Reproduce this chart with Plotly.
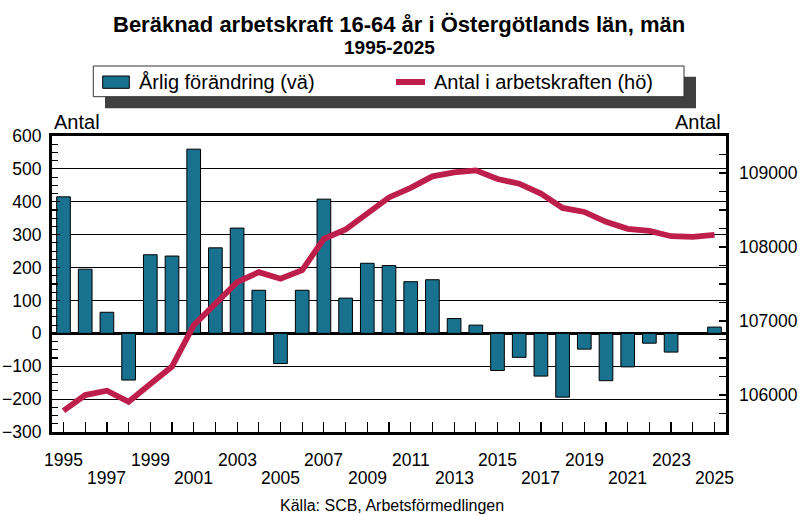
import plotly.graph_objects as go

# ---------------- data ----------------
years = list(range(1995, 2026))
annual_change = [415, 195, 64, -142, 239, 235, 560, 260, 320, 131, -92, 131, 408, 107, 213, 206,
                 157, 163, 45, 25, -113, -73, -130, -194, -48, -144, -102, -30, -57, 0, 19]
labour_force = [105787, 105999, 106057, 105908, 106147, 106385, 106942, 107225, 107526, 107660,
                107571, 107687, 108111, 108236, 108452, 108670, 108800, 108955, 109008, 109035,
                108919, 108856, 108721, 108528, 108474, 108340, 108245, 108218, 108146, 108137, 108164]
xlabels_top = [1995, 1999, 2003, 2007, 2011, 2015, 2019, 2023]
xlabels_bottom = [1997, 2001, 2005, 2009, 2013, 2017, 2021, 2025]
left_ticks = [-300, -200, -100, 0, 100, 200, 300, 400, 500, 600]
right_ticks = [106000, 107000, 108000, 109000]

title = "Beräknad arbetskraft 16-64 år i Östergötlands län, män"
subtitle = "1995-2025"
bar_name = "Årlig förändring (vä)"
line_name = "Antal i arbetskraften (hö)"
source = "Källa: SCB, Arbetsförmedlingen"

# ---------------- style ----------------
FONT = "Liberation Sans, Arial, sans-serif"
BAR_COLOR = "#18718F"
LINE_COLOR = "#BE1E4B"
W, H = 802, 515
L, R, T, B = 52, 76, 136, 83
PW, PH = W - L - R, H - T - B


def px(X):
    return (X - L) / PW


def py(Y):
    return (H - B - Y) / PH


fig = go.Figure()
fig.add_trace(go.Bar(x=years, y=annual_change, name=bar_name, width=0.63,
                     marker=dict(color=BAR_COLOR, line=dict(color="black", width=1)),
                     yaxis="y"))
fig.add_trace(go.Scatter(x=years, y=labour_force, name=line_name, mode="lines",
                         line=dict(color=LINE_COLOR, width=5.8), yaxis="y2"))

shapes = [
    # legend shadow
    dict(type="rect", xref="paper", yref="paper", x0=px(105), x1=px(696), y0=py(108.3), y1=py(76.7),
         fillcolor="#404040", line=dict(width=0), layer="above"),
    # legend box
    dict(type="rect", xref="paper", yref="paper", x0=px(93.3), x1=px(684), y0=py(96.7), y1=py(66),
         fillcolor="white", line=dict(color="#333333", width=1), layer="above"),
    # bar swatch
    dict(type="rect", xref="paper", yref="paper", x0=px(102.7), x1=px(129.3), y0=py(88.3), y1=py(76),
         fillcolor=BAR_COLOR, line=dict(color="black", width=1), layer="above"),
    # line swatch
    dict(type="line", xref="paper", yref="paper", x0=px(396), x1=px(425), y0=py(82), y1=py(82),
         line=dict(color=LINE_COLOR, width=6), layer="above"),
]

annotations = [
    dict(text=f"<b>{title}</b>", x=px(398.5), y=py(24.7), xref="paper", yref="paper",
         showarrow=False, xanchor="center", yanchor="middle", font=dict(size=22, family=FONT, color="black")),
    dict(text=f"<b>{subtitle}</b>", x=px(389.5), y=py(47.7), xref="paper", yref="paper",
         showarrow=False, xanchor="center", yanchor="middle", font=dict(size=19, family=FONT, color="black")),
    dict(text=bar_name, x=px(137), y=py(82), xref="paper", yref="paper", showarrow=False,
         xanchor="left", yanchor="middle", font=dict(size=20, family=FONT, color="black")),
    dict(text=line_name, x=px(432), y=py(82), xref="paper", yref="paper", showarrow=False,
         xanchor="left", yanchor="middle", font=dict(size=20, family=FONT, color="black")),
    dict(text="Antal", x=px(51.7), y=py(121.7), xref="paper", yref="paper", showarrow=False,
         xanchor="left", yanchor="middle", font=dict(size=20, family=FONT, color="black")),
    dict(text="Antal", x=px(723.3), y=py(121.7), xref="paper", yref="paper", showarrow=False,
         xanchor="right", yanchor="middle", font=dict(size=20, family=FONT, color="black")),
    dict(text=source, x=px(391.7), y=py(505), xref="paper", yref="paper", showarrow=False,
         xanchor="center", yanchor="middle", font=dict(size=16, family=FONT, color="black")),
]
for yr in xlabels_top:
    annotations.append(dict(text=str(yr), x=yr, y=py(459.5), xref="x", yref="paper", showarrow=False,
                            xanchor="center", yanchor="middle",
                            font=dict(size=17.5, family=FONT, color="black")))
for yr in xlabels_bottom:
    annotations.append(dict(text=str(yr), x=yr, y=py(478), xref="x", yref="paper", showarrow=False,
                            xanchor="center", yanchor="middle",
                            font=dict(size=17.5, family=FONT, color="black")))

fig.update_layout(
    width=W, height=H,
    margin=dict(l=L, r=R, t=T, b=B, pad=0, autoexpand=False),
    paper_bgcolor="white", plot_bgcolor="white",
    showlegend=False, hovermode=False,
    font=dict(family=FONT, color="black", size=17.5),
    bargap=0,
    xaxis=dict(range=[1994.47, 2025.53], tickvals=years, showticklabels=False, automargin=False,
               ticks="inside", ticklen=10, tickwidth=1.2, tickcolor="black",
               showline=True, linewidth=3, linecolor="black", mirror=True,
               showgrid=False, zeroline=False),
    yaxis=dict(range=[-300, 600], tickvals=left_ticks, ticks="inside", ticklen=8, tickwidth=1.2,
               automargin=False, tickformat="d",
               tickcolor="black", showline=True, linewidth=3, linecolor="black", mirror=True,
               showgrid=True, gridcolor="black", gridwidth=1.2,
               zeroline=True, zerolinecolor="black", zerolinewidth=2.5,
               minor=dict(dtick=25, tick0=0, ticks="inside", ticklen=6, tickwidth=1.2,
                          tickcolor="black", showgrid=False),
               tickfont=dict(size=17.5, family=FONT, color="black"), ticklabelstandoff=4),
    yaxis2=dict(range=[105500, 109500], tickvals=right_ticks, overlaying="y", side="right",
                automargin=False, tickformat="d",
                ticks="inside", ticklen=7, tickwidth=1.2, tickcolor="black",
                showline=False, showgrid=False, zeroline=False,
                minor=dict(dtick=250, tick0=105500, ticks="inside", ticklen=7, tickwidth=1.2,
                           tickcolor="black", showgrid=False),
                tickfont=dict(size=17.5, family=FONT, color="black"), ticklabelstandoff=12),
    shapes=shapes,
    annotations=annotations,
)

fig.write_html("out.html", config={"displayModeBar": False, "staticPlot": True},
               post_script="document.body.style.margin='0';")
